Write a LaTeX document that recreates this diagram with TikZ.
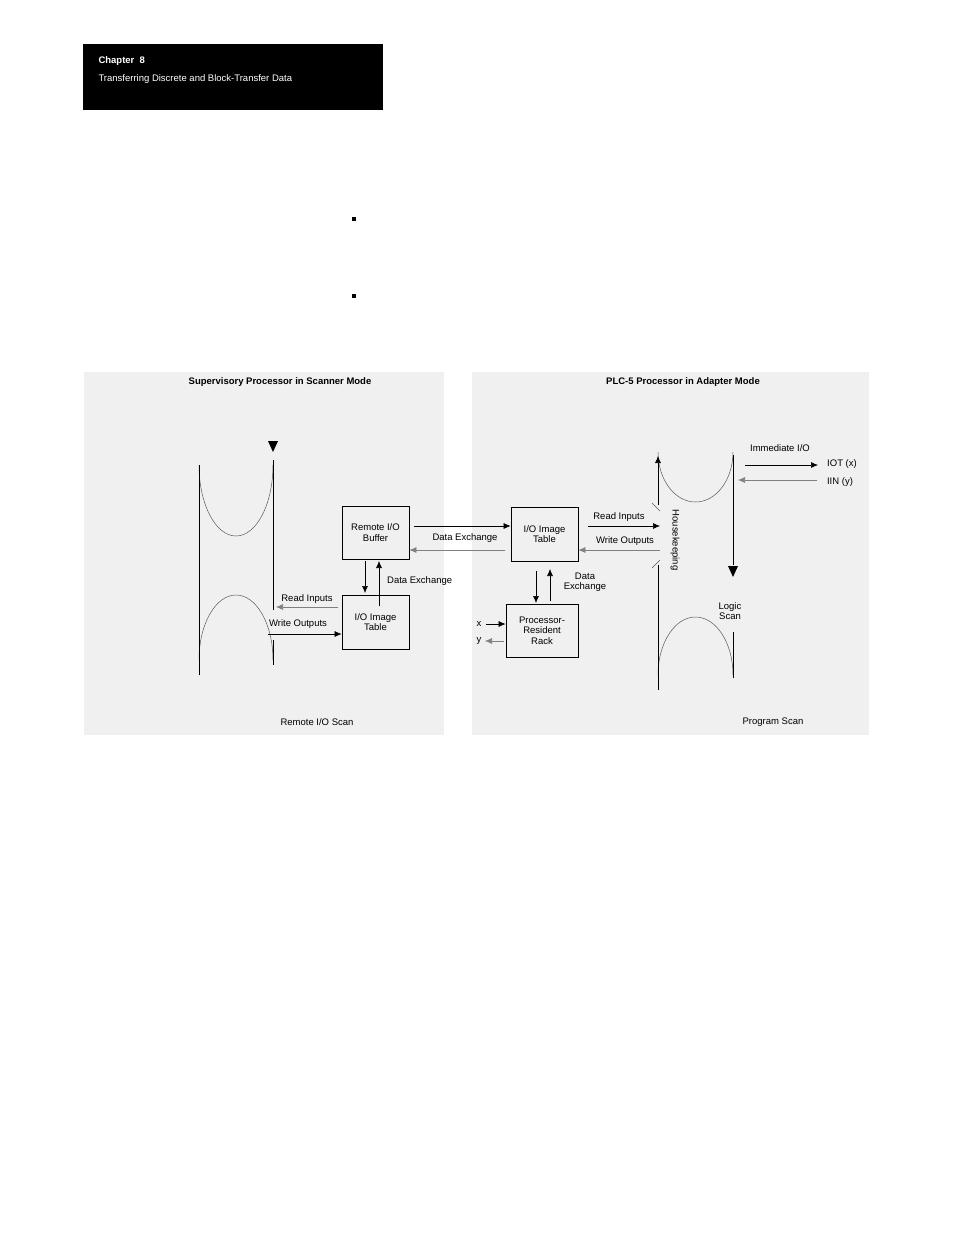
\documentclass[tikz,border=0pt]{standalone}
\usepackage{fontspec}
\setmainfont{Liberation Sans}
\usetikzlibrary{arrows.meta}
\tikzset{
  blk/.style={draw,thick,minimum width=67pt,minimum height=53pt,align=center,inner sep=1pt},
  lbl/.style={font=\fontsize{9.5}{10.5}\selectfont,align=center,inner sep=1pt},
  ttl/.style={font=\bfseries\fontsize{9.5}{10.5}\selectfont,inner sep=1pt},
  loop/.style={gray!70!black,line width=0.5pt},
  flow/.style={-{Latex[length=7pt,width=6pt]},line width=0.6pt},
  pale/.style={-{Latex[length=7pt,width=6pt]},line width=0.6pt,draw=gray},
  panel/.style={fill=black!6,draw=none}
}
\begin{document}
\begin{tikzpicture}[x=1pt,y=-1pt,font=\fontsize{9.5}{10.5}\selectfont]
  \useasboundingbox (0,0) rectangle (954,1235);
  % header
  \fill[black] (83,44) rectangle (383,110);
  \node[anchor=west,text=white,font=\bfseries\fontsize{9.5}{10.5}\selectfont] (chap) at (95,61) {Chapter\ \ 8};
  \node[anchor=west,text=white] (chtitle) at (95,79) {Transferring Discrete and Block-Transfer Data};
  % bullets
  \fill (352,217) rectangle (356,221);
  \fill (352,294) rectangle (356,298);

  % panels
  \fill[panel] (84,372) rectangle (444,735);
  \fill[panel] (472,372) rectangle (869,735);
  \node[ttl] (lt) at (280,382) {Supervisory Processor in Scanner Mode};
  \node[ttl] (rt) at (683,382) {PLC-5 Processor in Adapter Mode};

  % remote I/O scan loop
  \draw[loop] (199,465) arc[start angle=180,end angle=0,x radius=37,y radius=71];
  \draw[loop] (199,660) arc[start angle=180,end angle=360,x radius=37,y radius=65];
  \draw[thick] (199,465) -- (199,675);
  \draw[thick] (273,460) -- (273,610) (273,640) -- (273,665);
  \fill (268,441) -- (278,441) -- (273,452) -- cycle;
  \node[lbl] (rscan) at (317,722) {Remote I/O Scan};

  % left boxes
  \node[blk,minimum width=67pt,minimum height=53pt] (buf) at (375.5,532.5) {Remote I/O\\Buffer};
  \node[blk,minimum width=67pt,minimum height=54pt] (limg) at (375.5,622) {I/O Image\\Table};
  \draw[flow] (365,561) -- (365,593);
  \draw[flow] (379,606) -- (379,561);
  \node[lbl,anchor=west] (dx1) at (386,581) {Data Exchange};
  \draw[pale] (338,607) -- (276,607);
  \node[lbl] (ri1) at (307,599) {Read Inputs};
  \draw[flow] (268,634) -- (limg.west |- 0,634);
  \node[lbl] (wo1) at (298,624) {Write Outputs};

  % right boxes
  \node[blk,minimum width=67pt,minimum height=54pt] (rimg) at (544.5,534) {I/O Image\\Table};
  \node[blk,minimum width=72pt,minimum height=53pt] (rack) at (542,630.5) {Processor-\\Resident\\Rack};
  \draw[flow] (414,526) -- (rimg.west |- 0,526);
  \draw[pale] (505,550) -- (buf.east |- 0,550);
  \node[lbl] (dx2) at (465,538) {Data Exchange};
  \draw[flow] (536,571) -- (536,603);
  \draw[flow] (550,601) -- (550,569);
  \node[lbl] (dx3) at (585,582) {Data\\Exchange};
  \draw[flow] (486,624) -- (rack.west |- 0,624);
  \draw[pale] (504,641) -- (485,641);
  \node[lbl] (xl) at (479,624) {x};
  \node[lbl] (yl) at (479,641) {y};

  % program scan loop
  \draw[loop] (658,452) arc[start angle=180,end angle=0,x radius=37.5,y radius=50];
  \draw[loop] (658,675) arc[start angle=180,end angle=360,x radius=37.5,y radius=58];
  \draw[flow] (658,505) -- (658,456);
  \draw[thick] (658,565) -- (658,690);
  \draw[loop] (652,503) -- (660,511) (652,568) -- (660,560);
  \draw[thick] (733,455) -- (733,565) (733,632) -- (733,678);
  \fill (728,566) -- (738,566) -- (733,577) -- cycle;
  \node[lbl] (logic) at (730,611) {Logic\\Scan};
  \node[lbl,rotate=-90] (hk) at (675,540) {Housekeeping};
  \draw[flow] (588,526) -- (660,526);
  \node[lbl] (ri2) at (619,517) {Read Inputs};
  \draw[pale] (660,550) -- (rimg.east |- 0,550);
  \node[lbl] (wo2) at (625,541) {Write Outputs};
  \node[lbl] (imm) at (780,448) {Immediate I/O};
  \draw[flow] (745,465) -- (818,465);
  \node[lbl] (iot) at (842,464) {IOT (x)};
  \draw[pale] (817,480) -- (738,480);
  \node[lbl] (iin) at (840,482) {IIN (y)};
  \node[lbl] (pscan) at (773,722) {Program Scan};
\end{tikzpicture}
\end{document}
